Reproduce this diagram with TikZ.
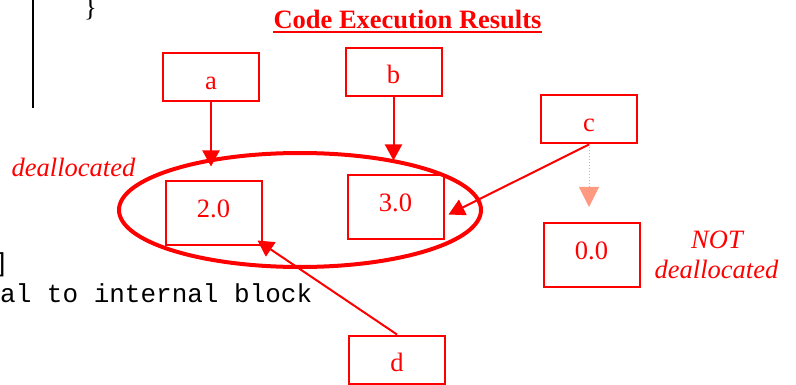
\documentclass[tikz,border=0pt]{standalone}
\usepackage{fontspec}
\setmainfont{Liberation Serif}
\setmonofont{Liberation Mono}
\usetikzlibrary{arrows.meta,shapes.geometric}
\definecolor{ink}{HTML}{FF0000}
\definecolor{faint}{HTML}{FF9980}
\begin{document}
\begin{tikzpicture}[x=1pt,y=-1pt,
  font=\fontsize{26.5}{30}\selectfont,
  every node/.style={inner sep=0pt},
  varbox/.style={draw=ink, line width=2pt, minimum width=96pt, minimum height=48pt,
                 text=ink, text height=24pt, text depth=0pt},
  valbox/.style={draw=ink, line width=2pt, minimum width=96pt, minimum height=64pt,
                 text=ink, text height=8pt, text depth=0pt},
  note/.style={text=ink, anchor=base, font=\fontsize{26.5}{30}\selectfont\itshape},
  code/.style={anchor=base west, font=\fontsize{26}{30}\selectfont\ttfamily},
  ptr/.style={draw=ink, line width=2pt, -{Triangle[width=17pt,length=16pt]}},
  weakptr/.style={draw=faint, line width=1pt, dotted, -{Triangle[width=20pt,length=20pt,fill=faint]}}]
\useasboundingbox (0,0) rectangle (796,385);
\clip (0,0) rectangle (796,385);

% program listing on the left
\draw[line width=2pt] (33,0) -- (33,108);
\node[anchor=base west] (brace) at (84,17) {\}};
\node[code] (bracket) at (-7,272) {]};
\node[code] (comment) at (0,302) {al to internal block};

% title
\node[anchor=base, text=ink, font=\fontsize{26.5}{30}\selectfont\bfseries] (title) at (407.5,29) {Code Execution Results};
\draw[ink, line width=1.5pt] ([yshift=-3pt]title.base west) -- ([yshift=-3pt]title.base east);

% heap region of released values
\node[ellipse, draw=ink, line width=4pt, minimum width=362pt, minimum height=114pt] (heap) at (300,210) {};

% reference variables
\node[varbox] (a) at (211,77.5) {a};
\node[varbox] (b) at (393.5,72) {b};
\node[varbox] (c) at (589,119.5) {c};
\node[varbox] (d) at (397,359.5) {d};

% stored values
\node[valbox] (v2) at (213.5,213.5) {2.0};
\node[valbox] (v3) at (395.5,207.5) {3.0};
\node[valbox] (v0) at (591.5,255) {0.0};

% annotations
\node[note] (freed) at (73.5,177) {deallocated};
\node[note] (kept1) at (717,248) {NOT};
\node[note] (kept2) at (716.5,279) {deallocated};

% references
\draw[ptr, shorten >=14pt] (a.south) -- (a.south |- v2.north);
\draw[ptr, shorten >=14pt] (b.south) -- (b.south |- v3.north);
\draw[ptr] (c.south) -- ([shift={(4,7)}]v3.east);
\draw[ptr] (d.north) -- ([shift={(-5,-6)}]v2.south east);
\draw[weakptr, shorten >=15pt] (c.south) -- (c.south |- v0.north);
\end{tikzpicture}
\end{document}
